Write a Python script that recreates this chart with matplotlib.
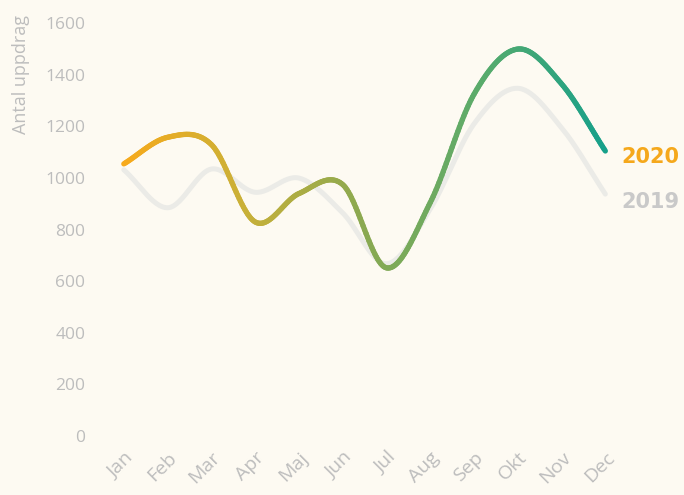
import numpy as np
import matplotlib
matplotlib.use("Agg")
import matplotlib.pyplot as plt
from matplotlib.collections import LineCollection
from matplotlib.colors import LinearSegmentedColormap

plt.rcParams['font.family'] = ['Open Sans', 'DejaVu Sans']

months = ['Jan', 'Feb', 'Mar', 'Apr', 'Maj', 'Jun', 'Jul', 'Aug', 'Sep', 'Okt', 'Nov', 'Dec']
y2020 = [1055, 1158, 1130, 830, 940, 975, 652, 905, 1325, 1500, 1365, 1105]
y2019 = [1032, 885, 1035, 945, 1000, 865, 668, 880, 1210, 1348, 1195, 938]

BG = '#fdfaf2'
TICK = '#bdbdbd'


def smooth(vals, n=30):
    # Catmull-Rom spline through the monthly points
    p = np.asarray(vals, dtype=float)
    p = np.concatenate([[2 * p[0] - p[1]], p, [2 * p[-1] - p[-2]]])
    xs, ys = [], []
    for i in range(1, len(p) - 2):
        t = np.linspace(0, 1, n, endpoint=False)
        p0, p1, p2, p3 = p[i - 1], p[i], p[i + 1], p[i + 2]
        y = 0.5 * ((2 * p1) + (-p0 + p2) * t + (2 * p0 - 5 * p1 + 4 * p2 - p3) * t ** 2
                   + (-p0 + 3 * p1 - 3 * p2 + p3) * t ** 3)
        xs.append(i - 1 + t)
        ys.append(y)
    xs.append([len(vals) - 1])
    ys.append([vals[-1]])
    return np.concatenate(xs), np.concatenate(ys)


fig = plt.figure(figsize=(6.84, 4.95), dpi=100, facecolor=BG)
ax = fig.add_axes([0.149, 0.119, 0.768, 0.834], facecolor=BG)

x19, s19 = smooth(y2019)
ax.plot(x19, s19, color='#ebebe7', lw=3.6, solid_capstyle='round', zorder=2)

x20, s20 = smooth(y2020)
pts = np.column_stack([x20, s20]).reshape(-1, 1, 2)
segs = np.concatenate([pts[:-1], pts[1:]], axis=1)
cmap = LinearSegmentedColormap.from_list('g', ['#f7aa1c', '#c9b038', '#8aa951', '#58ab6c', '#17a08a'])
lc = LineCollection(segs, cmap=cmap, norm=plt.Normalize(0, 11), lw=3.8, capstyle='round', zorder=3)
lc.set_array(x20[:-1])
ax.add_collection(lc)

ax.set_xlim(-0.5, 11.5)
ax.set_ylim(0, 1600)
ax.set_yticks(range(0, 1601, 200))
ax.set_xticks(range(12))
ax.set_xticklabels(months, rotation=45, ha='right', rotation_mode='anchor')
ax.tick_params(axis='both', length=0, colors=TICK)
ax.tick_params(axis='y', pad=12, labelsize=12.5)
ax.tick_params(axis='x', pad=9, labelsize=14)
for s in ax.spines.values():
    s.set_visible(False)

fig.text(0.031, 0.97, 'Antal uppdrag', rotation=90, ha='center', va='top', color=TICK, fontsize=13)
fig.text(0.908, 0.683, '2020', color='#f5a81c', fontsize=15, fontweight='bold', va='center',
         family='DejaVu Sans')
fig.text(0.908, 0.592, '2019', color='#c9c9c9', fontsize=15, fontweight='bold', va='center',
         family='DejaVu Sans')

fig.savefig('out.png', dpi=100, facecolor=BG)
